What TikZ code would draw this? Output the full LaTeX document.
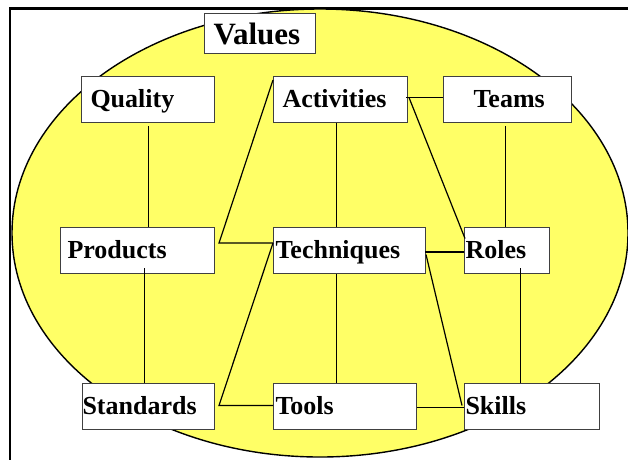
\documentclass[tikz,border=0pt]{standalone}
\usepackage{fontspec}
\setmainfont{Liberation Serif}
\definecolor{ellyellow}{HTML}{FFFF66}
\definecolor{boxgray}{HTML}{404040}
\begin{document}
\begin{tikzpicture}[x=1pt,y=-1pt,
  box/.style={draw=boxgray, fill=white, line width=1pt, anchor=north west,
    minimum height=46pt, inner xsep=0pt, inner ysep=0pt, align=left,
    text height=19pt, text depth=3.5pt,
    font=\fontsize{26}{28}\selectfont\bfseries},
  conn/.style={line width=1.2pt, black}]
\useasboundingbox (0,0) rectangle (628,459);
\fill[white] (0,0) rectangle (628,459);
% frame
\draw[line width=2.4pt] (10,470) -- (10,8.5) -- (640,8.5);
% ellipse
\draw[fill=ellyellow, line width=1.4pt] (320,233) ellipse [x radius=308, y radius=224];
% boxes
\node[box, minimum height=40pt, text width=111pt, text height=24pt, text depth=2pt,
      font=\fontsize{31}{33}\selectfont\bfseries] (v) at (204,13) {\hspace*{9pt}Values};
\node[box, text width=133pt] (q) at (81,76) {\hspace*{9pt}Quality};
\node[box, text width=134pt] (a) at (273,76) {\hspace*{9pt}Activities};
\node[box, text width=128pt] (tm) at (443,76) {\hspace*{30pt}Teams};
\node[box, text width=154pt] (p) at (60,227) {\hspace*{7pt}Products};
\node[box, text width=152pt] (t) at (273,227) {\hspace*{2pt}Techniques};
\node[box, text width=85pt] (r) at (464,227) {\hspace*{1pt}Roles};
\node[box, text width=132pt] (s) at (82,383) {Standards};
\node[box, text width=143pt] (tl) at (273,383) {\hspace*{2pt}Tools};
\node[box, text width=135pt] (sk) at (464,383) {\hspace*{1pt}Skills};
% vertical connectors
\draw[conn] ([xshift=0.5pt,yshift=-3pt]q.south) -- ([xshift=0.5pt]q.south |- p.north);
\draw[conn] ([xshift=7pt,yshift=6pt]p.south) -- ([xshift=7pt]p.south |- s.north);
\draw[conn] ([xshift=-4pt]a.south) -- ([xshift=-4pt]a.south |- t.north);
\draw[conn] ([xshift=-13pt]t.south) -- ([xshift=-13pt]t.south |- tl.north);
\draw[conn] ([xshift=-2pt,yshift=-3pt]tm.south) -- ([xshift=-2pt]tm.south |- r.north);
\draw[conn] ([xshift=13.5pt,yshift=6pt]r.south) -- ([xshift=13.5pt]r.south |- sk.north);
% left zigzag
\draw[conn] ([shift={(0,4)}]a.north west) -- ([shift={(4,-7.5)}]p.east) -- ([shift={(0,-7.5)}]t.west);
\draw[conn] ([shift={(0,-7.5)}]t.west) -- ([shift={(4,-1)}]s.east) -- ([shift={(0,-1)}]tl.west);
% right zigzag
\draw[conn] ([shift={(-2,-2)}]a.east) -- ([shift={(0,-2)}]tm.west);
\draw[conn] ([shift={(1,-2)}]a.east) -- ([shift={(1,-12)}]r.west);
\draw[conn] ([shift={(-1,1.5)}]t.east) -- ([shift={(0,1.5)}]r.west);
\draw[conn] ([shift={(0,4)}]t.east) -- ([shift={(-2,-1)}]sk.west);
\draw[conn] ([shift={(0,1)}]tl.east) -- ([shift={(0,1)}]sk.west);
\end{tikzpicture}
\end{document}
